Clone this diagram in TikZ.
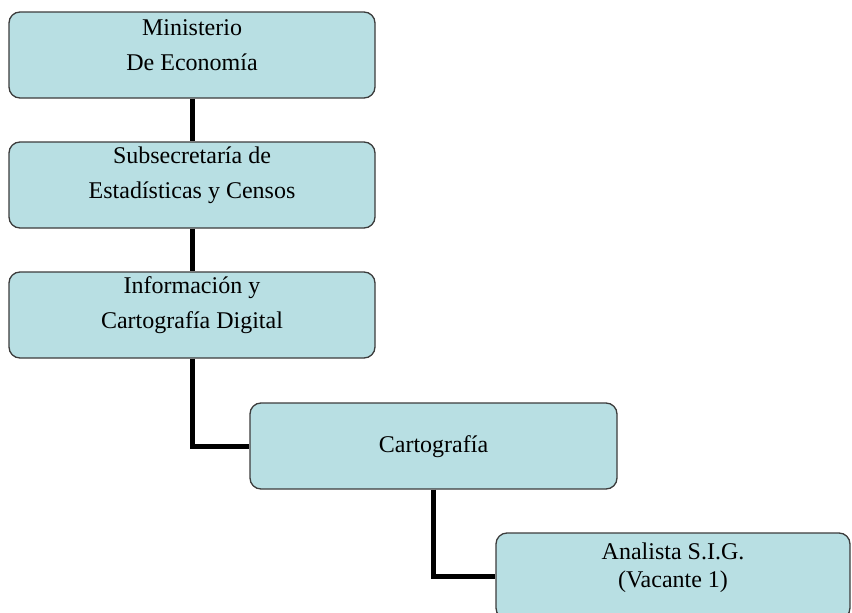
\documentclass[tikz,border=0pt]{standalone}
\usepackage{fontspec}
\setmainfont{Liberation Serif}
\definecolor{boxfill}{RGB}{184,223,227}
\definecolor{boxline}{RGB}{60,60,60}
\begin{document}
\begin{tikzpicture}[x=1pt,y=-1pt,
  orgbox/.style={draw=boxline, line width=1.3pt, fill=boxfill, rounded corners=11pt,
     minimum height=86pt, inner sep=0pt},
  txt/.style={font=\fontsize{24}{35}\selectfont, align=center, inner sep=0pt},
  conn/.style={line width=5pt, draw=black}]
\useasboundingbox (0,0) rectangle (852,613);
\clip (0,0) rectangle (852,613);
\fill[white] (0,0) rectangle (852,613);
% boxes
\node[orgbox, minimum width=366pt] (b1) at (192,55) {};
\node[orgbox, minimum width=366pt] (b2) at (192,185) {};
\node[orgbox, minimum width=366pt] (b3) at (192,315) {};
\node[orgbox, minimum width=367pt] (b4) at (433.5,446) {};
\node[orgbox, minimum width=354pt] (b5) at (673,576) {};
% connectors
\draw[conn] (b1.south) -- (b2.north);
\draw[conn] (b2.south) -- (b3.north);
\draw[conn] (b3.south) |- (b4.west);
\draw[conn] (b4.south) |- (b5.west);
% texts
\node[txt] (t1) at ([yshift=10pt]b1.center) {Ministerio\\De Economía};
\node[txt] (t2) at ([yshift=10pt]b2.center) {Subsecretaría de\\Estadísticas y Censos};
\node[txt] (t3) at ([yshift=10pt]b3.center) {Información y\\Cartografía Digital};
\node[txt] (t4) at ([yshift=-1pt]b4.center) {Cartografía};
\node[txt, font=\fontsize{24}{28}\selectfont] (t5) at ([yshift=8pt]b5.center) {Analista S.I.G.\\(Vacante 1)};
\end{tikzpicture}
\end{document}
